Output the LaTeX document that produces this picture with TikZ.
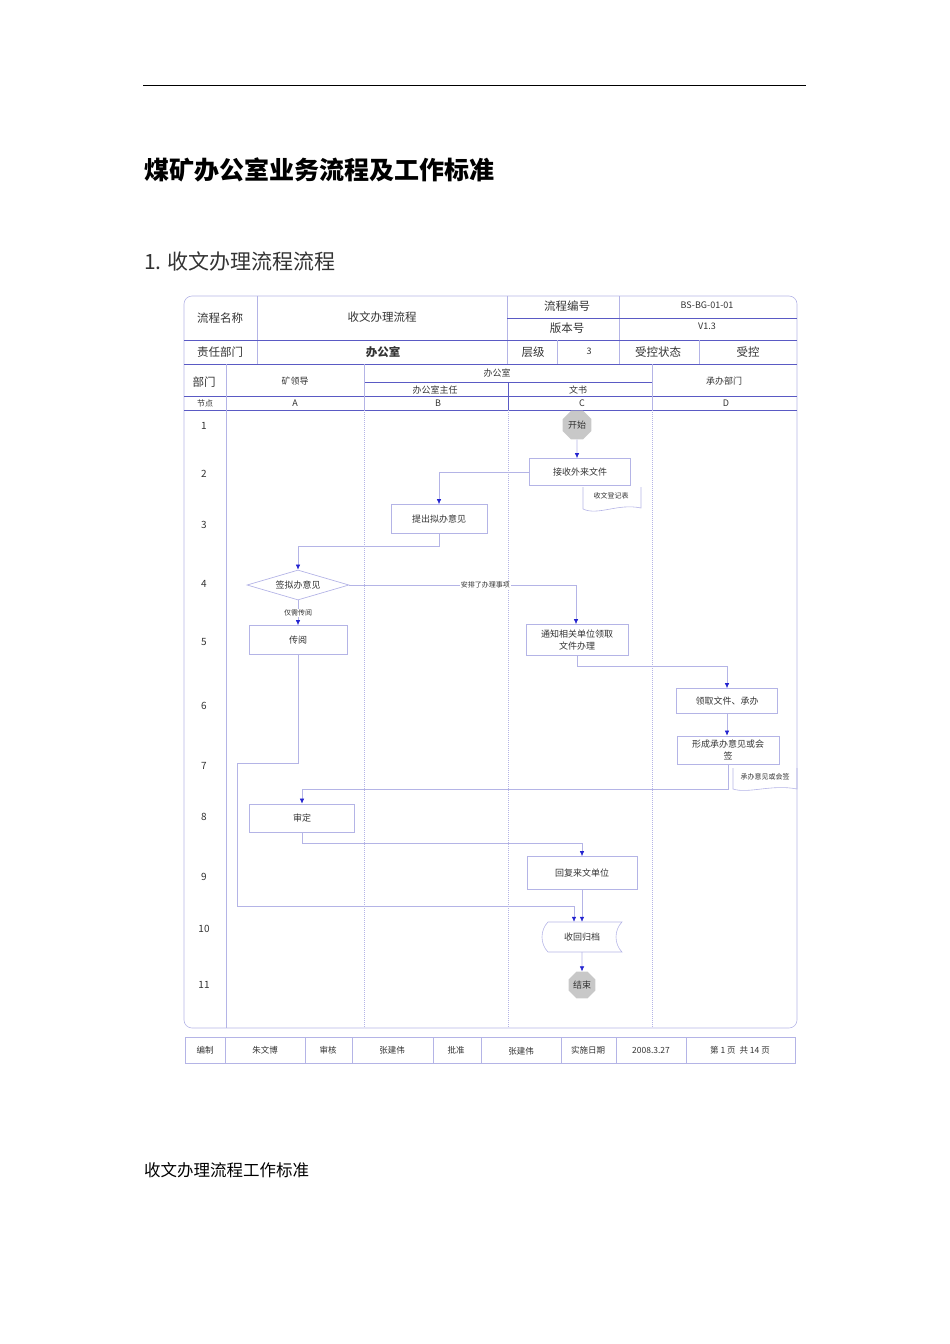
\documentclass[tikz,border=0pt]{standalone}
\usepackage{fontspec}
\setmainfont{Noto Sans CJK SC}
\usetikzlibrary{shapes.geometric,arrows.meta}
\definecolor{laneC}{HTML}{B4B4E6}
\definecolor{hdrC}{HTML}{5A5AC4}
\definecolor{arrC}{HTML}{2424D0}
\definecolor{txtC}{HTML}{333333}
\definecolor{termC}{HTML}{C8C8C8}
\begin{document}
\begin{tikzpicture}[x=1pt,y=-1pt,
    line/.style={draw=laneC, line width=0.6pt},
    hline/.style={draw=hdrC, line width=0.7pt},
    lane/.style={draw=laneC, line width=0.6pt, dash pattern=on 1pt off 1pt},
    hd/.style={text=txtC, font=\fontsize{11.5}{13}\selectfont, inner sep=0},
    sm/.style={text=txtC, font=\fontsize{9}{10}\selectfont, inner sep=0},
    lbl/.style={text=txtC, font=\fontsize{7}{8}\selectfont, inner sep=1pt},
    box/.style={draw=laneC, line width=0.7pt, text=txtC, align=center,
        font=\fontsize{9}{12}\selectfont, inner sep=0},
    term/.style={regular polygon, regular polygon sides=8, fill=termC, draw=none,
        minimum size=31pt, inner sep=0, text=txtC, font=\fontsize{9}{10}\selectfont},
    flow/.style={draw=laneC, line width=0.6pt, -{Latex[color=arrC,length=5pt,width=4.5pt]}}]
\useasboundingbox (0,0) rectangle (950,1344);

% page heading
\draw[line width=0.8pt] (143,85) -- (806,85);
\node[anchor=west, inner sep=0, font=\fontsize{25}{28}\selectfont\bfseries] (title) at (144,170) {煤矿办公室业务流程及工作标准};
\node[anchor=west, inner sep=0, text=txtC, font=\fontsize{21}{24}\selectfont] (sect) at (144,261) {1. 收文办理流程流程};

% frame and header table
\draw[line, rounded corners=8pt] (184,296) rectangle (797,1028);
\draw[line] (257,296) -- (257,364);
\draw[line] (507,296) -- (507,364);
\draw[line] (619,296) -- (619,364);
\draw[hline] (507,318) -- (797,318);
\draw[hline] (184,340) -- (797,340);
\draw[line] (557,340) -- (557,364);
\draw[line] (699,340) -- (699,364);
\draw[hline] (184,364) -- (797,364);
\draw[hline] (364,382) -- (652,382);
\draw[hline] (184,396) -- (797,396);
\draw[hline] (508,382) -- (508,410);
\draw[hline] (184,410) -- (797,410);
\draw[line] (226,364) -- (226,1028);
\draw[line] (364,364) -- (364,410);
\draw[line] (652,364) -- (652,410);
\draw[lane] (364,410) -- (364,1028);
\draw[lane] (508,410) -- (508,1028);
\draw[lane] (652,410) -- (652,1028);

\node[hd] (nameK) at (220,318) {流程名称};
\node[hd] (nameV) at (382,317) {收文办理流程};
\node[hd] (codeK) at (567,306) {流程编号};
\node[hd] (verK) at (567,328) {版本号};
\node[sm] (codeV) at (707,305) {BS-BG-01-01};
\node[sm] (verV) at (707,326) {V1.3};
\node[hd] (deptK) at (220,352) {责任部门};
\node[hd, font=\fontsize{11.5}{13}\selectfont\bfseries] (deptV) at (383,352) {办公室};
\node[hd] (lvlK) at (533,352) {层级};
\node[sm] (lvlV) at (589,351) {3};
\node[hd] (ctlK) at (658,352) {受控状态};
\node[hd] (ctlV) at (748,352) {受控};
\node[hd] (laneK) at (204,382) {部门};
\node[sm] (laneA) at (295,381) {矿领导};
\node[sm] (laneBC) at (497,373) {办公室};
\node[sm] (laneB) at (435,390) {办公室主任};
\node[sm] (laneC) at (578,390) {文书};
\node[sm] (laneD) at (724,381) {承办部门};
\node[sm, font=\fontsize{8}{9}\selectfont] (colK) at (205,403) {节点};
\node[sm] (colA) at (295,403) {A};
\node[sm] (colB) at (438,403) {B};
\node[sm] (colC) at (582,403) {C};
\node[sm] (colD) at (726,403) {D};

% row numbers
\foreach \n/\y in {1/426,2/474,3/525,4/584,5/642,6/706,7/766,8/817,9/877,10/929,11/985}
    \node[sm, font=\fontsize{10}{11}\selectfont] (row\n) at (204,\y) {\n};

% flow nodes
\node[term] (start) at (577,425) {开始};
\node[box, minimum width=101pt, minimum height=27pt] (recv) at (580,472) {接收外来文件};
\draw[line] (583,487) -- (583,509) .. controls (598,516) and (618,503) .. (641,508) -- (641,487);
\node[lbl] (reg) at (611,496) {收文登记表};
\node[box, minimum width=96pt, minimum height=29pt] (draft) at (439,519) {提出拟办意见};
\node[diamond, draw=laneC, line width=0.7pt, text=txtC, font=\fontsize{9}{10}\selectfont,
    minimum width=102pt, minimum height=30pt, inner sep=0, aspect=3.4] (sign) at (298,585) {签拟办意见};
\node[box, minimum width=98pt, minimum height=29pt] (circ) at (298,640) {传阅};
\node[box, minimum width=102pt, minimum height=31pt] (notify) at (577,640) {通知相关单位领取\\文件办理};
\node[box, minimum width=101pt, minimum height=25pt] (take) at (727,701) {领取文件、承办};
\node[box, minimum width=102pt, minimum height=28pt] (form) at (728,750) {形成承办意见或会\\签};
\draw[line] (733,768) -- (733,789) .. controls (748,794) and (772,784) .. (797,789) -- (797,768);
\node[lbl] (fb) at (765,777) {承办意见或会签};
\node[box, minimum width=105pt, minimum height=28pt] (review) at (302,818) {审定};
\node[box, minimum width=110pt, minimum height=33pt] (reply) at (582,873) {回复来文单位};
\node[text=txtC, font=\fontsize{9}{10}\selectfont, minimum width=81pt, minimum height=30pt, inner sep=0] (arch) at (582,937) {收回归档};
\draw[line] (548,922) -- (622,922) .. controls (614,930) and (614,944) .. (622,952)
    -- (548,952) .. controls (540,944) and (540,930) .. (548,922) -- cycle;
\node[term, minimum size=29pt] (stop) at (582,985) {结束};

% link points
\coordinate (lk1) at (237,763);
\coordinate (lk2) at (237,906);

% connectors
\draw[flow] (start) -- (recv.north -| start);
\draw[flow] (recv.west) -| (draft.north);
\draw[flow] (draft.south) -- ++(0,12) -| (sign.north);
\draw[flow] (sign.east) -| (notify.north -| 576,0) node[pos=0.3, fill=white, lbl] (arrange) {安排了办理事项};
\draw[flow] (sign.south) -- (circ.north) node[midway, fill=white, lbl] (only) {仅需传阅};
\draw[flow] (notify.south) -- ++(0,10) -| (take.north);
\draw[flow] (take.south) -- (take.south |- form.north);
\draw[flow] (form.south) -- ++(0,25) -| (review.north);
\draw[flow] (circ.south) |- (lk1) -- (lk2) -| ([xshift=-8pt]arch.north);
\draw[flow] (review.south) -- ++(0,11) -| (reply.north);
\draw[flow] (reply.south) -- (arch.north);
\draw[flow] (arch.south) -- (stop.north);

% footer table
\draw[line] (185,1037) rectangle (795,1063);
\foreach \x in {225,305,352,433,481,561,616,686}
    \draw[line] (\x,1037) -- (\x,1063);
\node[sm, font=\fontsize{8.5}{10}\selectfont] (ft1) at (205,1050) {编制};
\node[sm, font=\fontsize{8.5}{10}\selectfont] (ft2) at (265,1050) {朱文博};
\node[sm, font=\fontsize{8.5}{10}\selectfont] (ft3) at (328,1050) {审核};
\node[sm, font=\fontsize{8.5}{10}\selectfont] (ft4) at (392,1050) {张建伟};
\node[sm, font=\fontsize{8.5}{10}\selectfont] (ft5) at (456,1050) {批准};
\node[sm, font=\fontsize{8.5}{10}\selectfont] (ft6) at (521,1051) {张建伟};
\node[sm, font=\fontsize{8.5}{10}\selectfont] (ft7) at (588,1050) {实施日期};
\node[sm, font=\fontsize{8.5}{10}\selectfont] (ft8) at (651,1050) {2008.3.27};
\node[sm, font=\fontsize{8.5}{10}\selectfont] (ft9) at (740,1050) {第 1 页 \ 共 14 页};

% closing line of the page
\node[anchor=west, inner sep=0, font=\fontsize{16.5}{19}\selectfont] (std) at (144,1170) {收文办理流程工作标准};
\end{tikzpicture}
\end{document}
